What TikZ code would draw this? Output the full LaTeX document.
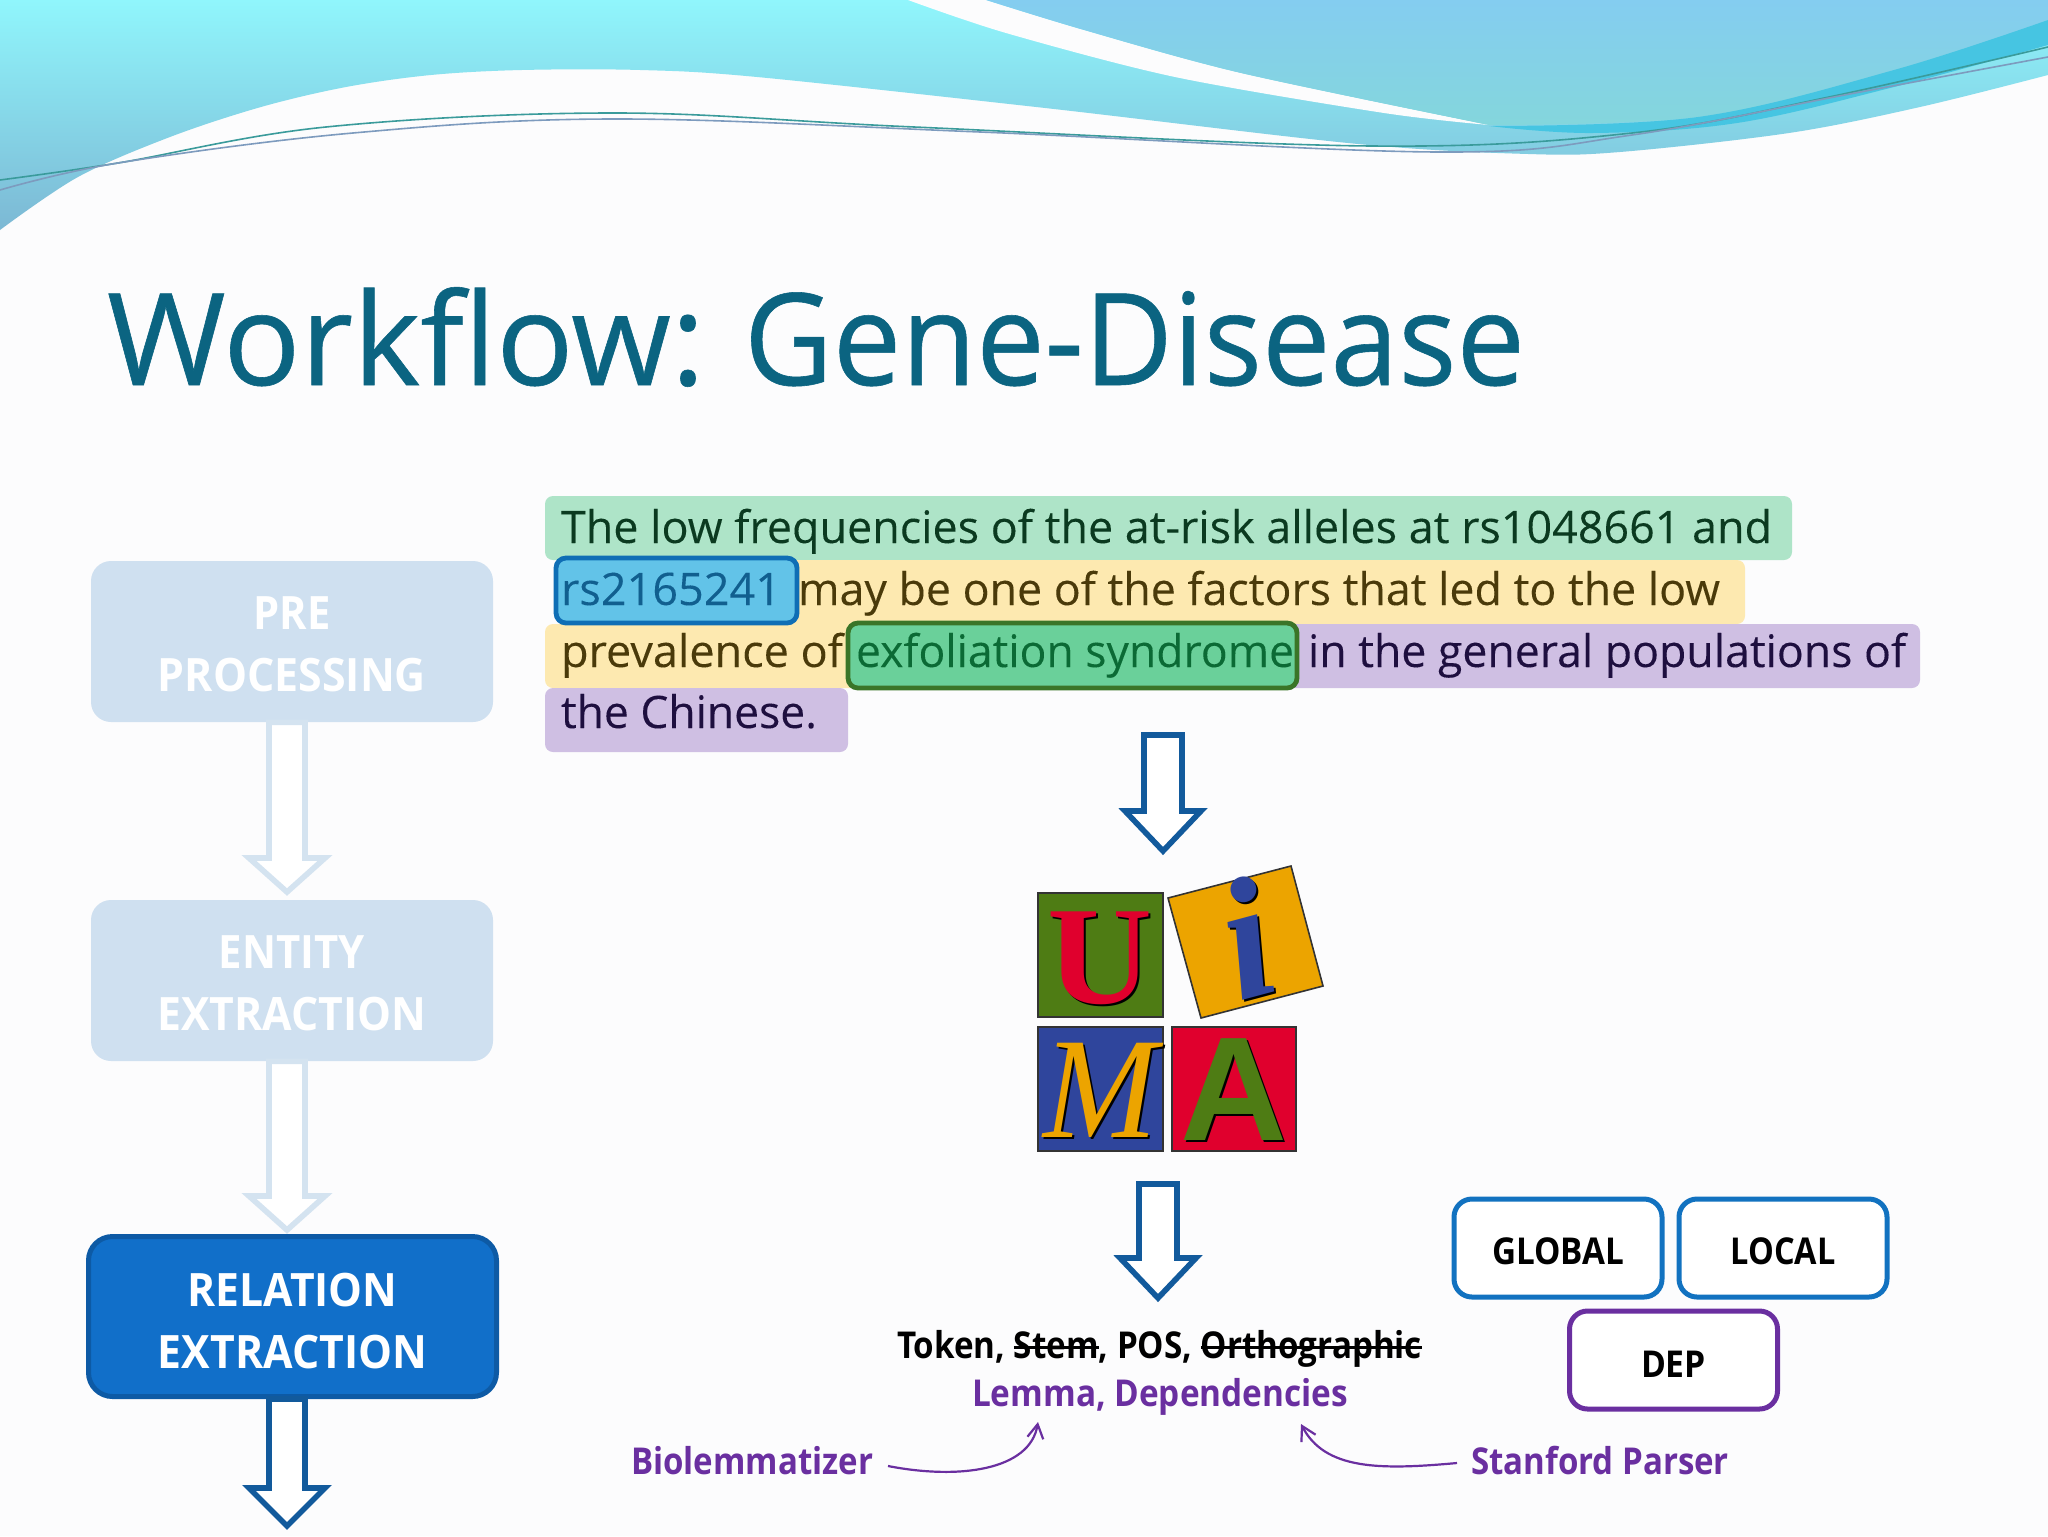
\documentclass[tikz,border=0pt]{standalone}
\usepackage{fontspec}
\usepackage{graphicx}
\usetikzlibrary{calc,arrows.meta}
\setmainfont{Open Sans}
\newfontfamily\bodyf[FakeBold=0.12]{Open Sans}
\newfontfamily\titlef[FakeBold=0.45]{Open Sans}
\newfontfamily\serifl{Liberation Serif}
\newfontfamily\sansl{Liberation Sans}
% width in reference pixels (1px = 0.5pt), natural height kept
\newcommand\fitw[2]{\resizebox{\dimexpr #1pt/2\relax}{\height}{#2}}
\newcommand\strk[1]{\leavevmode\setbox0\hbox{#1}\rlap{\rule[.24em]{\wd0}{.09em}}\box0 }
\definecolor{bgc}{HTML}{FCFCFD}
\definecolor{titlec}{HTML}{0B6481}
\definecolor{barc}{HTML}{125A9C}
\definecolor{fadeb}{HTML}{D4E3F0}
\definecolor{fadef}{HTML}{CFE0F0}
\definecolor{relf}{HTML}{116FC9}
\definecolor{relb}{HTML}{0D5AA5}
\definecolor{mint}{HTML}{AEE4C8}
\definecolor{mintt}{HTML}{0B3A20}
\definecolor{yel}{HTML}{FDE9B0}
\definecolor{yelt}{HTML}{4A3A0A}
\definecolor{pur}{HTML}{CFBFE3}
\definecolor{purt}{HTML}{1E0F3F}
\definecolor{sky}{HTML}{62C3E8}
\definecolor{skyb}{HTML}{0F6EB5}
\definecolor{skyt}{HTML}{115F8F}
\definecolor{grn}{HTML}{6AD09A}
\definecolor{grnb}{HTML}{3A7528}
\definecolor{grnt}{HTML}{0B6A35}
\definecolor{boxb}{HTML}{1272C0}
\definecolor{vio}{HTML}{6A2FA0}
\definecolor{ugreen}{HTML}{4E7C14}
\definecolor{uorange}{HTML}{ECA400}
\definecolor{ublue}{HTML}{2F459C}
\definecolor{ured}{HTML}{E0002D}
\definecolor{wtop}{RGB}{144,246,252}
\definecolor{wbot}{RGB}{124,184,212}
\definecolor{btop}{RGB}{132,205,240}
\definecolor{bbot}{RGB}{132,214,220}
\definecolor{swoosh}{RGB}{70,197,226}
\definecolor{linea}{RGB}{58,155,155}
\definecolor{lineb}{RGB}{125,155,190}
\tikzset{
  x=0.5pt,y=-0.5pt,
  txt/.style={inner sep=0pt,outer sep=0pt,anchor=base west,font=\fontsize{22.4}{27}\bodyf\selectfont},
  hl/.style={rounded corners=4pt},
  fadedbox/.style={rectangle,rounded corners=10pt,fill=fadef,inner sep=0pt,minimum width=201pt,minimum height=80.5pt,align=center,text=white,font=\fontsize{23}{31}\selectfont\bfseries},
  activebox/.style={rectangle,rounded corners=12pt,fill=relf,draw=relb,line width=2.5pt,inner sep=0pt,minimum width=204pt,minimum height=80pt,align=center,text=white,font=\fontsize{23}{31}\selectfont\bfseries},
  tagbox/.style={rectangle,rounded corners=9pt,fill=white,line width=2.5pt,inner sep=0pt,minimum width=104pt,minimum height=49pt,font=\fontsize{18.5}{21}\selectfont\bfseries},
  blockarrow/.style={line width=2.8pt,line join=miter,fill=white},
  logosq/.style={draw=black!80,line width=.8pt},
  sidetext/.style={txt,font=\fontsize{18.5}{22}\selectfont\bfseries},
  thinwave/.style={line width=.8pt},
  bendarrow/.style={draw=vio,line width=1.1pt,-{Straight Barb[length=7pt,width=8pt,line width=1.1pt]}},
}
% \barrow{start}{tip}{half shaft}{half wing}{head length}{colour}
\newcommand\barrow[6]{%
  \draw[blockarrow,draw=#6] ($(#1)+(-#3,0)$) -- ($(#2)+(-#3,-#5)$) -- ($(#2)+(-#4,-#5)$) -- (#2) -- ($(#2)+(#4,-#5)$) -- ($(#2)+(#3,-#5)$) -- ($(#1)+(#3,0)$) -- cycle;}
\newcommand\logoletter[6]{% name, pos, rotation, font, colour, letter
  \node[inner sep=0pt,anchor=center,rotate=#3,text=black,font=#4] (#1s) at ($(#2)+(2,2)$) {#6};
  \node[inner sep=0pt,anchor=center,rotate=#3,text=#5,font=#4] (#1) at (#2) {#6};}
\begin{document}
\begin{tikzpicture}
\useasboundingbox (0,0) rectangle (2048,1536);
\fill[bgc] (0,0) rectangle (2048,1536);
% --- waves
\shade[top color=wtop,bottom color=wbot]
  (0,0) -- (2048,0) -- (2048,75) -- plot[smooth,tension=.55] coordinates {(2048,75) (1920,107) (1789,133) (1620,152) (1528,154) (1358,144) (1045,108) (757,77) (640,70) (522,70) (431,75) (346,87) (261,107) (170,137) (78,177) (0,230)} -- cycle;
\fill[bgc] (908,0) -- plot[smooth,tension=.5] coordinates {(908,0) (1006,33) (1175,77) (1384,113) (1489,125)} -- plot[smooth,tension=.5] coordinates {(1489,125) (1241,73) (1084,30) (986,0)} -- cycle;
\shade[top color=btop,bottom color=bbot]
  (986,0) -- plot[smooth,tension=.5] coordinates {(986,0) (1084,30) (1241,73) (1489,125)} -- plot[smooth,tension=.6] coordinates {(1489,125) (1698,117) (1894,77) (2048,20)} -- (2048,0) -- cycle;
\fill[swoosh] plot[smooth,tension=.6] coordinates {(1489,126) (1698,117) (1894,70) (2048,20)} -- plot[smooth,tension=.6] coordinates {(2048,45) (1894,87) (1737,123) (1593,133) (1489,126)} -- cycle;
\draw[thinwave,linea] plot[smooth,tension=.6] coordinates {(0,180) (118,163) (326,127) (614,113) (914,127) (1371,146) (1632,133) (1829,97) (2048,47)};
\draw[thinwave,lineb] plot[smooth,tension=.6] coordinates {(0,190) (118,163) (353,133) (614,119) (980,132) (1437,152) (1632,135) (1855,93) (2048,57)};
% --- title
\node[txt,font=\fontsize{64}{70}\titlef\selectfont,text=titlec] (title) at (107,385) {\fitw{598}{Workflow:}\hspace{19.5pt}\fitw{781}{Gene-Disease}};
% --- left column
\coordinate (tipa) at (287,892);
\coordinate (tipb) at (287,1230);
\coordinate (tipc) at (287,1526);
\node[fadedbox] (pre) at (292,641.5) {\rule{0pt}{19pt}\fitw{77}{PRE}\\\fitw{268}{PROCESSING}};
\node[fadedbox] (ent) at (292,980.5) {\rule{0pt}{19pt}\fitw{146}{ENTITY}\\\fitw{269}{EXTRACTION}};
\barrow{pre.south -| tipa}{tipa}{18}{38}{34}{fadeb}
\barrow{ent.south -| tipb}{tipb}{18}{38}{34}{fadeb}
\node[activebox] (rel) at (292.5,1316.5) {\rule{0pt}{21pt}\fitw{210}{RELATION}\\\fitw{269}{EXTRACTION}};
\barrow{rel.south -| tipc}{tipc}{18}{38}{38}{barc}
% --- highlighted sentence
\fill[mint,hl] (545,496) rectangle (1792,560);
\fill[yel,hl] (780,560) rectangle (1745,624);
\fill[yel,hl] (545,624) rectangle (860,688);
\fill[pur,hl] (1285,624) rectangle (1920,688);
\fill[pur,hl] (545,688) rectangle (848,752);
\draw[fill=sky,draw=skyb,line width=2.4pt,rounded corners=5pt] (556,558) rectangle (797,623);
\draw[fill=grn,draw=grnb,line width=2.4pt,rounded corners=5pt] (848,623) rectangle (1297,688);
\node[txt,text=mintt] (l1) at (561,543) {\fitw{1211}{The low frequencies of the at-risk alleles at rs1048661 and}};
\node[txt,text=skyt] (l2a) at (561,605) {\fitw{220}{rs2165241}};
\node[txt,text=yelt] (l2b) at (798,605) {\fitw{922}{may be one of the factors that led to the low}};
\node[txt,text=yelt] (l3a) at (561,667) {\fitw{282}{prevalence of}};
\node[txt,text=grnt] (l3b) at (856,667) {\fitw{438}{exfoliation syndrome}};
\node[txt,text=purt] (l3c) at (1308,667) {\fitw{598}{in the general populations of}};
\node[txt,text=purt] (l4) at (561,728) {\fitw{256}{the Chinese.}};
% --- arrows to and from the logo
\coordinate (ua) at (1163,735);
\coordinate (ub) at (1163,851);
\coordinate (uc) at (1158,1184);
\coordinate (ud) at (1158,1298);
\barrow{ua}{ub}{19}{38}{40}{barc}
\barrow{uc}{ud}{19}{38}{40}{barc}
% --- UIMA logo
\fill[logosq,fill=ugreen] (1038,893) rectangle (1163,1017);
\fill[logosq,fill=ublue] (1038,1027) rectangle (1163,1151);
\fill[logosq,fill=ured] (1172,1027) rectangle (1296,1151);
\draw[logosq,fill=uorange] (1168,898) -- (1291,866) -- (1323,986) -- (1201,1018) -- cycle;
\coordinate (pu) at (1100,958);
\coordinate (pi) at (1246,938);
\coordinate (pm) at (1100,1090);
\coordinate (pa) at (1234,1090);
\logoletter{lu}{pu}{0}{\serifl\bfseries\fontsize{70}{74}\selectfont}{ured}{\fitw{105}{U}}
\logoletter{li}{pi}{15}{\serifl\bfseries\itshape\fontsize{86}{90}\selectfont}{ublue}{i}
\logoletter{lm}{pm}{0}{\serifl\itshape\fontsize{72}{74}\selectfont}{uorange}{\fitw{114}{M}}
\logoletter{la}{pa}{0}{\sansl\bfseries\fontsize{74}{74}\selectfont}{ugreen}{A}
% --- feature text
\node[sidetext,text=black] (tok) at (897,1358) {\fitw{525}{Token, \strk{Stem}, POS, \strk{Orthographic}}};
\node[sidetext,text=vio] (lem) at (972,1406) {\fitw{376}{Lemma, Dependencies}};
\node[sidetext,text=vio] (bio) at (631,1474) {\fitw{242}{Biolemmatizer}};
\node[sidetext,text=vio] (sta) at (1471,1474) {\fitw{258}{Stanford Parser}};
\coordinate (b1) at (888,1466);
\coordinate (b2) at (1038,1422);
\coordinate (s1) at (1457,1463);
\coordinate (s2) at (1301,1424);
\draw[bendarrow] (b1) .. controls (960,1480) and (1030,1470) .. (b2);
\draw[bendarrow] (s1) .. controls (1380,1470) and (1325,1470) .. (s2);
% --- tag boxes
\node[tagbox,draw=boxb] (glo) at (1558,1248) {\rule{0pt}{17pt}\fitw{132}{GLOBAL}};
\node[tagbox,draw=boxb] (loc) at (1783,1248) {\rule{0pt}{17pt}\fitw{105}{LOCAL}};
\node[tagbox,draw=vio] (dep) at (1673.5,1360) {\rule{0pt}{17pt}\fitw{65}{DEP}};
\end{tikzpicture}
\end{document}
